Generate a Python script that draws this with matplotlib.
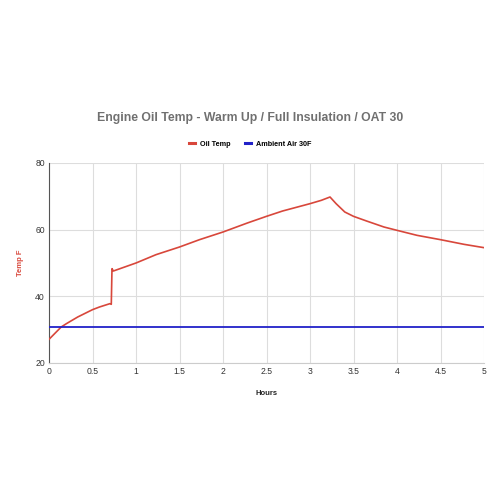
import matplotlib
matplotlib.use("Agg")
import matplotlib.pyplot as plt
from matplotlib.lines import Line2D

hours = [0.0, 0.14, 0.2, 0.33, 0.5, 0.58, 0.70, 0.716, 0.724, 0.74, 1.0, 1.23, 1.5, 1.73,
         2.0, 2.28, 2.5, 2.685, 3.0, 3.13, 3.23, 3.30, 3.40, 3.50, 3.65, 3.85,
         4.0, 4.23, 4.5, 4.77, 5.0]
oil_temp = [27.1, 30.8, 31.8, 33.8, 36.0, 36.8, 37.8, 37.6, 48.3, 47.6, 50.0, 52.5, 54.8, 57.0,
            59.3, 62.0, 64.0, 65.6, 67.8, 68.8, 69.8, 67.8, 65.3, 64.0, 62.6, 60.8,
            59.8, 58.3, 57.0, 55.6, 54.6]
ambient_hours = [0.0, 5.0]
ambient_temp = [30.9, 30.9]

x_ticks = [0, 0.5, 1, 1.5, 2, 2.5, 3, 3.5, 4, 4.5, 5]
x_tick_labels = ["0", "0.5", "1", "1.5", "2", "2.5", "3", "3.5", "4", "4.5", "5"]
y_ticks = [20, 40, 60, 80]

plt.rcParams['font.family'] = ['Liberation Sans', 'DejaVu Sans']

red = '#d8473b'
blue = '#2121c8'

fig = plt.figure(figsize=(5, 5), dpi=100)
fig.patch.set_facecolor('white')
ax = fig.add_axes([0.098, 0.274, 0.870, 0.400])

ax.plot(hours, oil_temp, color=red, lw=1.2, zorder=3)
ax.plot(ambient_hours, ambient_temp, color=blue, lw=1.3, zorder=3)

ax.set_xlim(0, 5)
ax.set_ylim(20, 80)
ax.set_xticks(x_ticks)
ax.set_xticklabels(x_tick_labels)
ax.set_yticks(y_ticks)
ax.grid(True, color='#dddddd', lw=0.8, zorder=0)
ax.tick_params(length=0, labelsize=6.2, colors='#333333', pad=3)
for s in ['top', 'right']:
    ax.spines[s].set_visible(False)
ax.spines['left'].set_color('#555555')
ax.spines['left'].set_linewidth(0.8)
ax.spines['bottom'].set_color('#cccccc')
ax.spines['bottom'].set_linewidth(0.8)

ax.set_xlabel("Hours", fontsize=5.5, fontweight='bold', color='#222222', labelpad=10)
ax.set_ylabel("Temp F", fontsize=5.5, fontweight='bold', color=red, labelpad=8)

fig.text(0.5, 0.764, "Engine Oil Temp - Warm Up / Full Insulation / OAT 30",
         ha='center', va='center', fontsize=8.8, fontweight='bold', color='#707070')

handles = [Line2D([0], [0], color=red, lw=2.2), Line2D([0], [0], color=blue, lw=2.2)]
fig.legend(handles, ["Oil Temp", "Ambient Air 30F"], loc='center', bbox_to_anchor=(0.5, 0.712),
           ncol=2, frameon=False, handlelength=0.9, columnspacing=2.0,
           handletextpad=0.6, prop={'weight': 'bold', 'size': 5.2})

fig.savefig("out.png", dpi=100, facecolor='white')
